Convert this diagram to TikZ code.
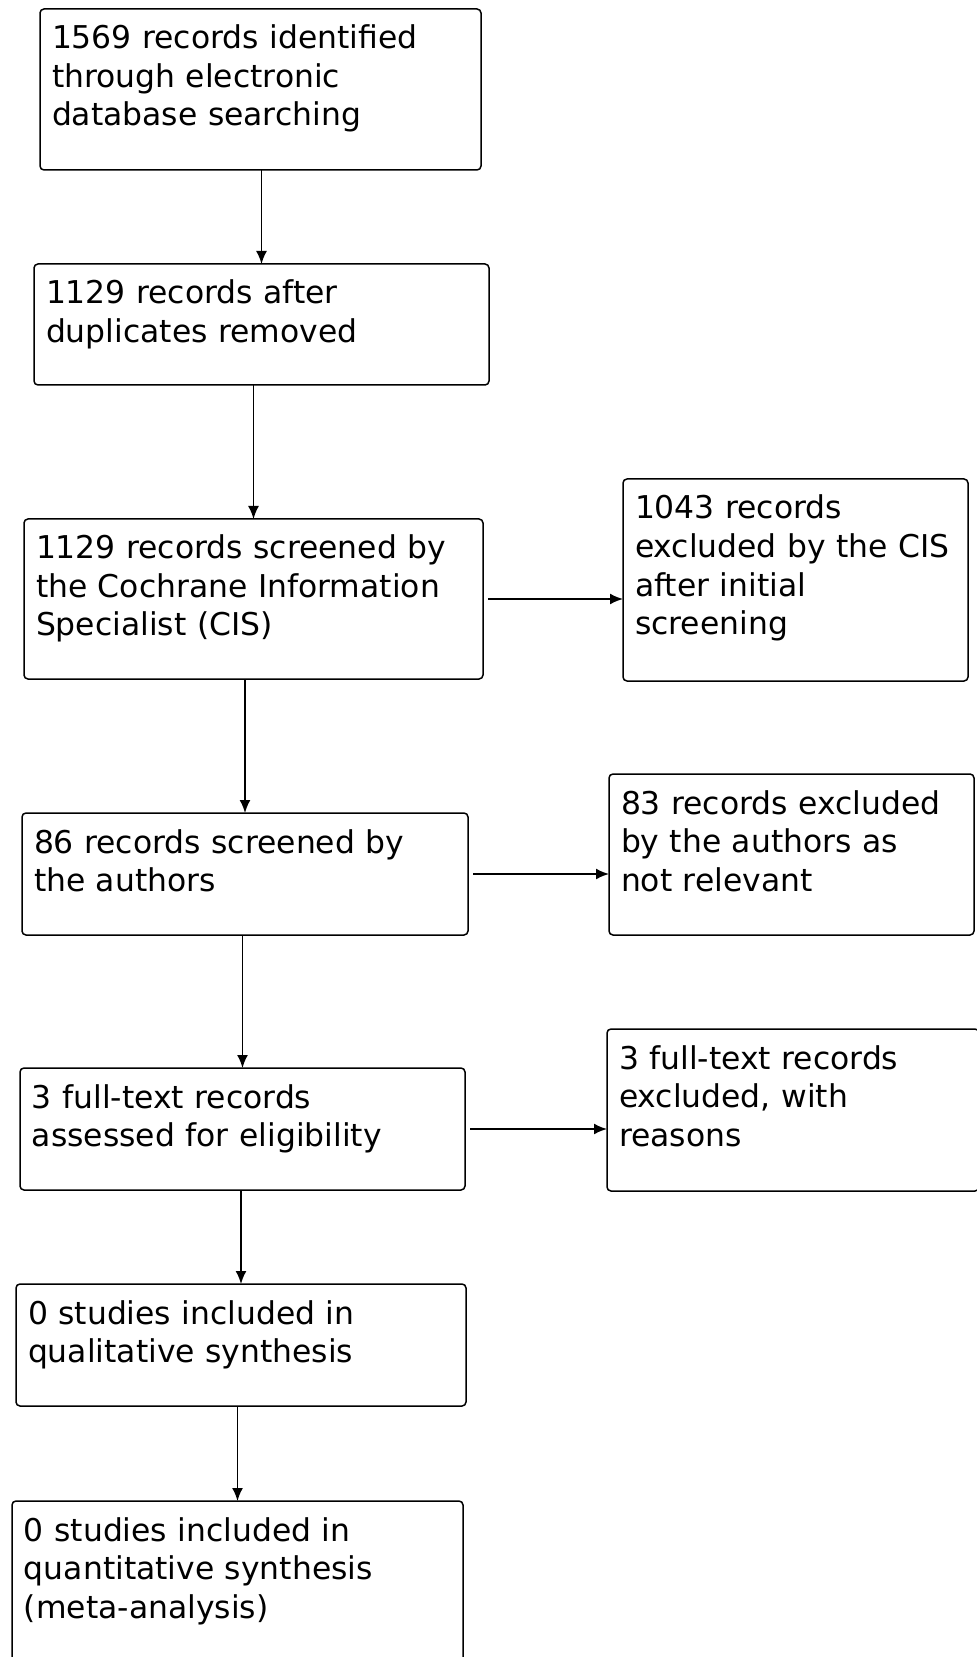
\documentclass[tikz,border=0pt]{standalone}
\usepackage{fontspec}
\setmainfont{DejaVu Sans}
\usetikzlibrary{arrows.meta}

\tikzset{
  stage/.style={draw, rounded corners=2pt, line width=0.75pt, anchor=north west,
    align=left, inner xsep=6pt, inner ysep=0pt, outer sep=0pt, text height=20pt,
    font=\fontsize{15.7}{19.25}\selectfont},
  flow/.style={-{Latex[length=6.5pt,width=5.5pt]}, line width=0.9pt},
}

\begin{document}
\begin{tikzpicture}[x=0.5pt,y=-0.5pt]
  \useasboundingbox (0,0) rectangle (976,1657);
  % main column
  \node[stage,text width=208.5pt,text depth=60.5pt] (b1) at (40,9)
    {1569 records identified\\through electronic\\database searching};
  \node[stage,text width=215.5pt,text depth=40.5pt] (b2) at (34,264)
    {1129 records after\\duplicates removed};
  \node[stage,text width=217.5pt,text depth=60pt] (b3) at (24,519)
    {1129 records screened by\\the Cochrane Information\\Specialist (CIS)};
  \node[stage,text width=211pt,text depth=41pt] (b5) at (22,813)
    {86 records screened by\\the authors};
  \node[stage,text width=210.5pt,text depth=41pt] (b7) at (20,1068)
    {3 full-text records\\assessed for eligibility};
  \node[stage,text width=213pt,text depth=41pt] (b9) at (16,1284)
    {0 studies included in\\qualitative synthesis};
  \node[stage,text width=213.5pt,text depth=80pt] (b10) at (12,1501)
    {0 studies included in\\quantitative synthesis\\(meta-analysis)};
  % exclusions
  \node[stage,text width=160.5pt,text depth=81pt] (b4) at (623,479)
    {1043 records\\excluded by the CIS\\after initial\\screening};
  \node[stage,text width=170.5pt,text depth=60.5pt] (b6) at (609,774)
    {83 records excluded\\by the authors as\\not relevant};
  \node[stage,text width=174pt,text depth=61pt] (b8) at (607,1029)
    {3 full-text records\\excluded, with\\reasons};

  \foreach \a/\b in {b1/b2,b2/b3,b3/b5,b5/b7,b7/b9,b9/b10}
    \draw[flow] (\b.north |- \a.south) -- (\b.north);
  \foreach \a/\b in {b3/b4,b5/b6,b7/b8}
    \draw[flow,shorten <=2.5pt] (\a.east) -- (\b.west |- \a.east);
\end{tikzpicture}
\end{document}
